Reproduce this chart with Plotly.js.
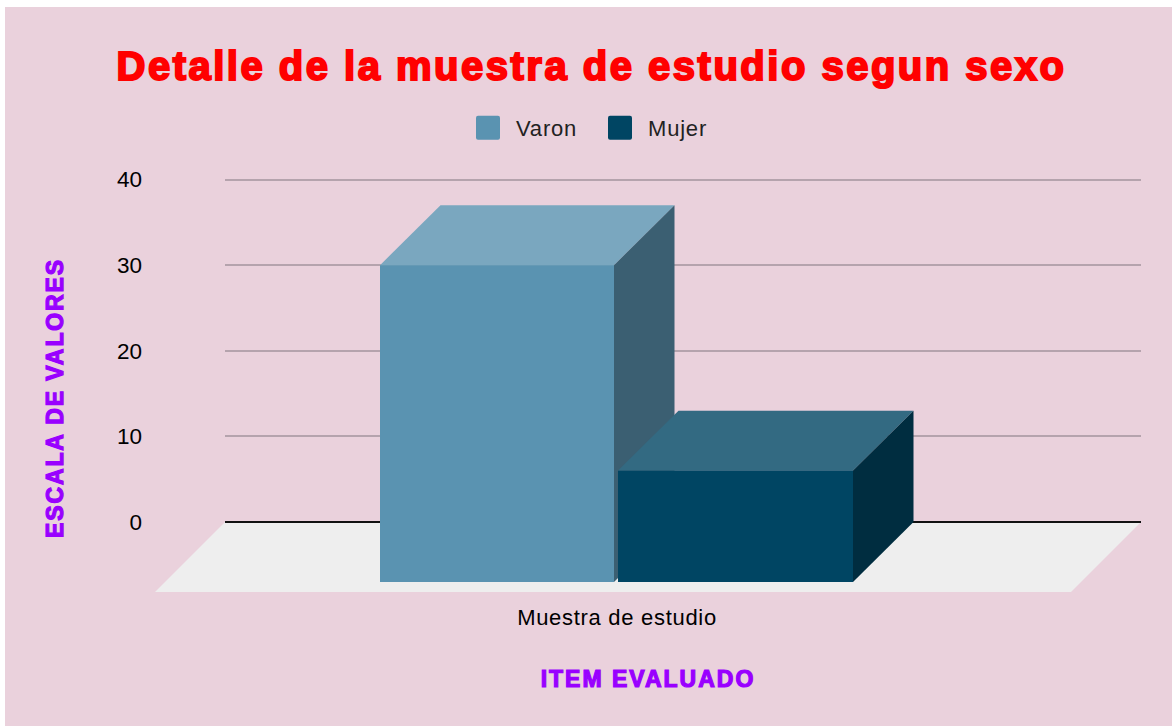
<!DOCTYPE html>
<html>
<head>
<meta charset="utf-8">
<script src="https://cdn.plot.ly/plotly-3.0.1.min.js"></script>
<style>
html,body{margin:0;padding:0;background:#fff;overflow:hidden}
#chart{position:absolute;left:5px;top:7px;width:1167px;height:719px}
.gtitle{letter-spacing:2.5px;stroke:#ff0000;stroke-width:2px}
.xtitle{letter-spacing:2px;stroke:#9900ff;stroke-width:1.2px}
.ytitle{letter-spacing:1.9px;stroke:#9900ff;stroke-width:1.2px}
.xtick text{letter-spacing:.7px}
.legendtext{letter-spacing:.8px}
</style>
</head>
<body>
<div id="chart"></div>
<script>
const chartTitle = 'Detalle de la muestra de estudio segun sexo';
const xAxisTitle = 'ITEM EVALUADO';
const yAxisTitle = 'ESCALA DE VALORES';
const categories = ['Muestra de estudio'];
const seriesNames = ['Varon', 'Mujer'];
const varon = [37];
const mujer = [13];
const yTicks = [0, 10, 20, 30, 40];

const frontColors = ['#5a93b1', '#004563'];
const topColors = ['#7aa7bf', '#336a82'];
const sideColors = ['#3b5f72', '#002d40'];

// x axis unit is one pixel, origin at the category centre
const xRange = [-392, 524];
const yRange = [-9, 41];
const depthX = 60.5, depthY = 7;
const barLeft = [-237, 1], barWidth = [234, 235];
const values = [varon, mujer];

const traces = [];
// real bars carry the values and the legend
values.forEach((v, i) => {
  traces.push({
    type: 'bar', name: seriesNames[i], x: [0], y: v, base: [-depthY],
    offset: barLeft[i], width: barWidth[i],
    marker: {color: frontColors[i], line: {width: 0}}, hoverinfo: 'name+y'
  });
});
// faces for the 3D look, in painter's order
function face(xs, ys, color) {
  traces.push({
    type: 'scatter', mode: 'lines', x: xs, y: ys, fill: 'toself', fillcolor: color,
    line: {width: 0, color: color}, showlegend: false, hoverinfo: 'skip'
  });
}
values.forEach((v, i) => {
  const L = barLeft[i], R = L + barWidth[i], T = v[0] - depthY, B = -depthY;
  face([L, R, R, L, L], [B, B, T, T, B], frontColors[i]);
  face([L, R, R + depthX, L + depthX, L], [T, T, T + depthY, T + depthY, T], topColors[i]);
  face([R, R + depthX, R + depthX, R, R], [B, B + depthY, T + depthY, T, B], sideColors[i]);
});

// floor in paper fractions of the plot area
const px = x => (x - xRange[0]) / (xRange[1] - xRange[0]);
const py = y => (y - yRange[0]) / (yRange[1] - yRange[0]);
const floorDepthX = 70, floorDepthY = 8.18;
const floorPath = 'M' + px(xRange[0]) + ',' + py(0) +
  ' L' + px(xRange[1]) + ',' + py(0) +
  ' L' + px(xRange[1] - floorDepthX) + ',' + py(-floorDepthY) +
  ' L' + px(xRange[0] - floorDepthX) + ',' + py(-floorDepthY) + ' Z';

const layout = {
  width: 1167, height: 719,
  paper_bgcolor: '#ead1dc', plot_bgcolor: 'rgba(0,0,0,0)',
  margin: {l: 220, r: 31, t: 163.94, b: 126.94, pad: 0},
  barmode: 'overlay',
  showlegend: true,
  font: {family: 'Liberation Sans, Arial, sans-serif', color: '#000000'},
  title: {
    text: chartTitle, x: 586.5 / 1167, xref: 'container', xanchor: 'center',
    y: 1 - 59 / 719, yref: 'container', yanchor: 'middle',
    font: {family: 'Liberation Sans, Arial, sans-serif', size: 40, color: '#ff0000', weight: 700}
  },
  legend: {
    orientation: 'h', x: (476 - 225) / 916, xanchor: 'left', y: (599.06 - 128) / 428.1, yanchor: 'middle',
    bgcolor: 'rgba(0,0,0,0)', font: {size: 22, color: '#222222'},
    traceorder: 'normal', entrywidth: 87, entrywidthmode: 'pixels'
  },
  xaxis: {
    type: 'linear', range: xRange, fixedrange: true, showgrid: false, zeroline: false,
    showline: false, ticks: '', tickmode: 'array', tickvals: [0], ticktext: categories,
    ticklabelstandoff: 3, tickfont: {size: 22, color: '#000000'},
    title: {text: xAxisTitle, standoff: 20, font: {size: 23, color: '#9900ff', weight: 700}}
  },
  yaxis: {
    range: yRange, fixedrange: true, showgrid: true, gridcolor: '#b5a3ad', gridwidth: 2,
    zeroline: true, zerolinecolor: '#111111', zerolinewidth: 2, showline: false, ticks: '',
    tickmode: 'array', tickvals: yTicks, ticklabelstandoff: 82,
    tickfont: {size: 22.5, color: '#000000'},
    title: {text: yAxisTitle, standoff: 20, font: {size: 23, color: '#9900ff', weight: 700}}
  },
  shapes: [{
    type: 'path', xref: 'paper', yref: 'paper', layer: 'below', path: floorPath,
    fillcolor: '#eeeeee', line: {width: 0}
  }]
};

Plotly.newPlot('chart', traces, layout, {displayModeBar: false, responsive: false}).then(gd => {
  // larger rounded legend swatches, as in the reference
  document.querySelectorAll('.legend .legendpoints path').forEach(p => {
    p.setAttribute('d', 'M-10,-12H10Q12,-12 12,-10V10Q12,12 10,12H-10Q-12,12 -12,10V-10Q-12,-12 -10,-12Z');
    p.setAttribute('transform', 'translate(12,0)');
  });
  const shift = (sel, dx, dy) => {
    const el = document.querySelector(sel);
    if (el) el.setAttribute('transform', 'translate(' + dx + ',' + dy + ') ' + (el.getAttribute('transform') || ''));
  };
  shift('.xtitle', -35, 21);
  shift('.ytitle', -26.5, 13);
});
</script>
</body>
</html>
